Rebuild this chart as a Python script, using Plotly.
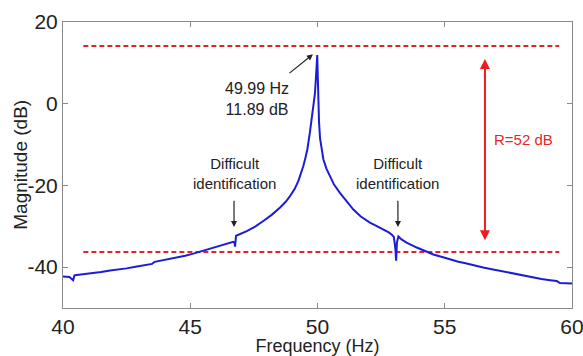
import plotly.graph_objects as go

freq = [40.0, 40.25, 40.4, 40.45, 40.54, 40.9, 41.19, 41.5, 41.85, 42.2, 42.5, 42.85, 43.16, 43.5, 43.6,
        43.68, 44.1, 44.47, 44.8, 45.12, 45.45, 45.78, 46.1, 46.43, 46.69, 46.74, 46.76, 46.8, 46.85,
        47.22, 47.55, 47.87, 48.2, 48.53, 48.75, 48.92, 49.1, 49.25, 49.35, 49.44, 49.52, 49.6, 49.7,
        49.76, 49.81, 49.86, 49.9, 49.94, 49.97, 49.99, 50.01, 50.03, 50.06, 50.1, 50.16, 50.23, 50.35,
        50.49, 50.65, 50.88, 51.1, 51.41, 51.7, 52.06, 52.35, 52.59, 52.8, 52.91, 53.0, 53.06, 53.09,
        53.12, 53.18, 53.3, 53.5, 53.9, 54.2, 54.55, 54.9, 55.21, 55.5, 55.86, 56.2, 56.51, 56.85,
        57.17, 57.5, 57.83, 58.15, 58.48, 58.8, 59.14, 59.4, 59.53, 59.6, 59.92, 60.0]
magnitude = [-42.3, -42.4, -43.2, -42.0, -41.9, -41.7, -41.4, -41.2, -40.8, -40.6, -40.3, -39.9, -39.6,
             -39.2, -38.7, -38.6, -38.2, -37.7, -37.2, -36.7, -36.1, -35.5, -34.9, -34.2, -33.8, -34.0,
             -35.0, -32.3, -32.2, -31.2, -30.1, -28.7, -27.2, -25.4, -24.0, -22.6, -20.9, -18.9, -17.2,
             -15.3, -13.4, -11.2, -7.1, -4.5, -1.4, -0.5, 2.5, 6.5, 10.0, 11.89, 7.0, 1.0, -4.5, -8.5,
             -11.5, -13.6, -15.9, -17.7, -19.8, -21.8, -23.5, -25.9, -27.6, -29.1, -30.0, -30.7, -31.5,
             -32.0, -32.6, -35.5, -38.4, -34.0, -32.5, -33.2, -34.0, -35.2, -36.0, -36.9, -37.5, -38.1,
             -38.6, -39.1, -39.7, -40.1, -40.5, -40.9, -41.4, -41.8, -42.2, -42.6, -42.9, -43.2, -43.4,
             -43.9, -43.9, -44.0, -44.0]

range_top = 14.1
range_bottom = -36.3
range_x = [40.8, 59.5]
x_ticks = [40, 45, 50, 55, 60]
x_ticktext = ["40", "45", "50", "55", "60"]
y_ticks = [-40, -20, 0, 20]
y_ticktext = ["-40", "-20", "0", "20"]

TXT = "Arial, Liberation Sans, sans-serif"
TICKFONT = dict(family=TXT, size=21, color="#222")

fig = go.Figure()
for yv in [range_top, range_bottom]:
    fig.add_trace(go.Scatter(x=range_x, y=[yv, yv], mode="lines",
                             line=dict(color="#e0262a", width=2, dash="5px,3px"),
                             hoverinfo="skip", showlegend=False))
fig.add_trace(go.Scatter(x=freq, y=magnitude, mode="lines",
                         line=dict(color="#1c1cd6", width=2), showlegend=False))

# peak annotation
fig.add_annotation(x=49.82, y=12.1, ax=48.84, ay=7.2, xref="x", yref="y", axref="x", ayref="y",
                   text="", showarrow=True, arrowhead=2, arrowsize=1, arrowwidth=1.2, arrowcolor="#222")
fig.add_annotation(x=47.62, y=1.2, xref="x", yref="y", text="49.99 Hz<br>11.89 dB", showarrow=False,
                   font=dict(family=TXT, size=16, color="#222"))
# difficult identification (left)
fig.add_annotation(x=46.72, y=-17.0, xref="x", yref="y", text="Difficult<br>identification",
                   showarrow=False, font=dict(family=TXT, size=15, color="#222"))
fig.add_annotation(x=46.72, y=-30.2, ax=46.72, ay=-23.4, xref="x", yref="y", axref="x", ayref="y",
                   text="", showarrow=True, arrowhead=2, arrowsize=1, arrowwidth=1.2, arrowcolor="#222")
# difficult identification (right)
fig.add_annotation(x=53.16, y=-17.0, xref="x", yref="y", text="Difficult<br>identification",
                   showarrow=False, font=dict(family=TXT, size=15, color="#222"))
fig.add_annotation(x=53.16, y=-30.2, ax=53.16, ay=-23.4, xref="x", yref="y", axref="x", ayref="y",
                   text="", showarrow=True, arrowhead=2, arrowsize=1, arrowwidth=1.2, arrowcolor="#222")
# range arrow
fig.add_annotation(x=56.58, y=-33.4, ax=56.58, ay=11.3, xref="x", yref="y", axref="x", ayref="y",
                   text="", showarrow=True, arrowhead=2, startarrowhead=2, arrowside="end+start",
                   arrowsize=1, arrowwidth=2, arrowcolor="#ee1c1c")
fig.add_annotation(x=58.1, y=-8.7, xref="x", yref="y", text="R=52 dB", showarrow=False,
                   font=dict(family=TXT, size=15, color="#e8262a"))
# y-axis title
fig.add_annotation(x=-0.085, y=0.5, xref="paper", yref="paper", text="Magnitude (dB)", textangle=-90,
                   showarrow=False, xanchor="center", yanchor="middle",
                   font=dict(family=TXT, size=19, color="#222"))

axis_common = dict(showgrid=False, zeroline=False, showline=True, linecolor="#8a8a8a", linewidth=1,
                   mirror="ticks", ticks="inside", ticklen=5, tickcolor="#8a8a8a", tickfont=TICKFONT,
                   ticklabeloverflow="allow", automargin=False)
fig.update_xaxes(range=[40, 60], tickvals=x_ticks, ticktext=x_ticktext, **axis_common,
                 title=dict(text="Frequency (Hz)", font=dict(family=TXT, size=18, color="#222"), standoff=2))
fig.update_yaxes(range=[-50, 20], tickvals=y_ticks, ticktext=y_ticktext, **axis_common)

fig.update_layout(width=583, height=356, margin=dict(l=63, r=11, t=22, b=48),
                  plot_bgcolor="white", paper_bgcolor="white")
fig.write_html("out.html")
